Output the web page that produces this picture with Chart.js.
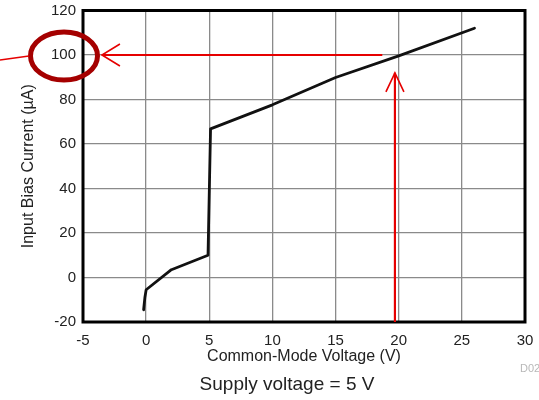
<!DOCTYPE html>
<html>
<head>
<meta charset="utf-8">
<script src="https://cdn.jsdelivr.net/npm/chart.js@4/dist/chart.umd.min.js"></script>
<style>
  html, body { margin: 0; padding: 0; background: #fff; }
  #wrap { width: 539px; height: 400px; position: relative; }
</style>
</head>
<body>
<div id="wrap"><canvas id="c" width="539" height="400"></canvas></div>
<script>
// Data
const voltageV = [-0.2, -0.1, 0, 2, 4.9, 5.1, 10, 15, 20, 26];
const biasCurrentUA = [-14.5, -9, -5.5, 3.5, 10, 66.8, 77.6, 89.9, 99.6, 112];
const xTicks = [-5, 0, 5, 10, 15, 20, 25, 30];
const yTicks = [-20, 0, 20, 40, 60, 80, 100, 120];
// Annotation values (data units)
const markCurrent = 100;      // horizontal arrow level
const markVoltage = 19.7;     // vertical arrow position
const hArrowFrom = 18.7, hArrowTo = -3.5;
const vArrowTo = 92;

const points = voltageV.map((v, i) => ({ x: v, y: biasCurrentUA[i] }));

const annotate = {
  id: 'annotate',
  afterDatasetsDraw(chart) {
    const { ctx, chartArea: a, scales: { x, y } } = chart;
    ctx.save();
    // plot frame
    ctx.strokeStyle = '#000';
    ctx.lineWidth = 3;
    ctx.strokeRect(a.left, a.top, a.right - a.left, a.bottom - a.top);

    const red = '#e60000';
    ctx.strokeStyle = red;
    ctx.lineCap = 'butt';
    // horizontal arrow
    const hy = y.getPixelForValue(markCurrent);
    const hx1 = x.getPixelForValue(hArrowFrom), hx2 = x.getPixelForValue(hArrowTo);
    ctx.lineWidth = 2.2;
    ctx.beginPath(); ctx.moveTo(hx1, hy); ctx.lineTo(hx2, hy); ctx.stroke();
    ctx.lineWidth = 1.6;
    ctx.beginPath();
    ctx.moveTo(hx2 + 18, hy - 11); ctx.lineTo(hx2, hy); ctx.lineTo(hx2 + 18, hy + 11);
    ctx.stroke();
    // vertical arrow
    const vx = x.getPixelForValue(markVoltage);
    const vy2 = y.getPixelForValue(vArrowTo);
    ctx.lineWidth = 2.2;
    ctx.beginPath(); ctx.moveTo(vx, a.bottom); ctx.lineTo(vx, vy2); ctx.stroke();
    ctx.lineWidth = 1.6;
    ctx.beginPath();
    ctx.moveTo(vx - 9, vy2 + 19); ctx.lineTo(vx, vy2); ctx.lineTo(vx + 9, vy2 + 19);
    ctx.stroke();
    // ellipse around the 100 label
    const ex = a.left - 19, ey = hy;
    ctx.strokeStyle = '#a50000';
    ctx.lineWidth = 5;
    ctx.beginPath(); ctx.ellipse(ex, ey + 1, 33.5, 24, 0, 0, Math.PI * 2); ctx.stroke();
    // pointer line from left edge
    ctx.strokeStyle = red;
    ctx.lineWidth = 1.6;
    ctx.beginPath(); ctx.moveTo(0, ey + 5); ctx.lineTo(ex - 35, ey + 1); ctx.stroke();

    // caption and figure id
    ctx.fillStyle = '#222';
    ctx.font = '19px "Liberation Sans", Arial, sans-serif';
    ctx.textAlign = 'center';
    ctx.textBaseline = 'middle';
    ctx.fillText('Supply voltage = 5 V', 287, 385);
    ctx.fillStyle = '#b8b8b8';
    ctx.font = '11px "Liberation Sans", Arial, sans-serif';
    ctx.textAlign = 'left';
    ctx.fillText('D02', 520, 369);
    ctx.restore();
  }
};

new Chart(document.getElementById('c'), {
  type: 'scatter',
  data: {
    datasets: [{
      data: points,
      showLine: true,
      borderColor: '#111',
      borderWidth: 2.8,
      pointRadius: 0,
      tension: 0,
      borderCapStyle: 'round',
      borderJoinStyle: 'round'
    }]
  },
  options: {
    responsive: false,
    animation: false,
    devicePixelRatio: 1,
    layout: { padding: { left: 0, top: 10.5, right: 14, bottom: 0 } },
    plugins: { legend: { display: false }, tooltip: { enabled: false } },
    scales: {
      x: {
        type: 'linear',
        min: -5, max: 30,
        afterBuildTicks: s => { s.ticks = xTicks.map(v => ({ value: v })); },
        afterFit: s => { s.height = 78; s.paddingLeft = 0; s.paddingRight = 0; },
        grid: { color: '#8a8a8a', lineWidth: 1.3, drawTicks: false },
        border: { display: false },
        ticks: { color: '#222', padding: 10, font: { family: '"Liberation Sans", Arial, sans-serif', size: 15 }, maxRotation: 0 },
        title: { display: true, text: 'Common-Mode Voltage (V)', color: '#222', padding: { top: 0, bottom: 34 }, font: { family: '"Liberation Sans", Arial, sans-serif', size: 16 } }
      },
      y: {
        type: 'linear',
        min: -20, max: 120,
        afterBuildTicks: s => { s.ticks = yTicks.map(v => ({ value: v })); },
        afterFit: s => { s.width = 83; s.paddingTop = 0; s.paddingBottom = 0; },
        grid: { color: '#8a8a8a', lineWidth: 1.3, drawTicks: false },
        border: { display: false },
        ticks: { color: '#222', padding: 7, font: { family: '"Liberation Sans", Arial, sans-serif', size: 15 } },
        title: { display: true, text: 'Input Bias Current (µA)', color: '#222', padding: { top: 19, bottom: 0 }, font: { family: '"Liberation Sans", Arial, sans-serif', size: 16 } }
      }
    }
  },
  plugins: [annotate]
});
</script>
</body>
</html>
